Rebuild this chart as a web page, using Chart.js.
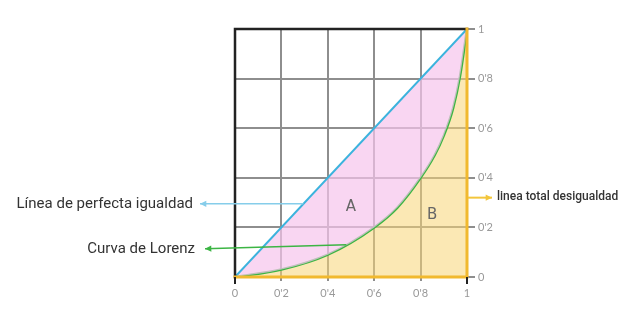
<!DOCTYPE html>
<html>
<head>
<meta charset="utf-8">
<script src="https://cdn.jsdelivr.net/npm/chart.js@4.4.1/dist/chart.umd.min.js"></script>
<style>
  body { margin: 0; background: #fff; }
  canvas { display: block; }
</style>
</head>
<body>
<canvas id="lorenz" width="626" height="309"></canvas>
<script>
// données
const tickValues = [0, 0.2, 0.4, 0.6, 0.8, 1];
const tickLabels = ["0", "0'2", "0'4", "0'6", "0'8", "1"];
const equalX = [0, 1];
const equalY = [0, 1];
const lorenzX = [0, 0.2, 0.4, 0.6, 0.7, 0.8, 0.86, 0.9, 0.94, 0.97, 1];
const lorenzY = [0, 0.03, 0.09, 0.2, 0.28, 0.4, 0.49, 0.57, 0.68, 0.81, 1];

const BLUE = '#3bb3dd';
const GREEN = '#3cb544';
const YELLOW = '#f1b92f';
const GRIS = '#8e8e8e';

function toPoints(xs, ys) {
  return xs.map((x, i) => ({ x: x, y: ys[i] }));
}

function labelFor(v) {
  const i = tickValues.findIndex(t => Math.abs(t - v) < 1e-6);
  return i >= 0 ? tickLabels[i] : '';
}

function fleche(ctx, x1, y1, x2, y2, color, width) {
  ctx.save();
  ctx.strokeStyle = color;
  ctx.fillStyle = color;
  ctx.lineWidth = width;
  ctx.beginPath();
  ctx.moveTo(x1, y1);
  ctx.lineTo(x2, y2);
  ctx.stroke();
  const a = Math.atan2(y2 - y1, x2 - x1);
  ctx.beginPath();
  ctx.moveTo(x2, y2);
  ctx.lineTo(x2 - 7 * Math.cos(a - 0.45), y2 - 7 * Math.sin(a - 0.45));
  ctx.lineTo(x2 - 7 * Math.cos(a + 0.45), y2 - 7 * Math.sin(a + 0.45));
  ctx.closePath();
  ctx.fill();
  ctx.restore();
}

// bordures + flèches + textes
const annotations = {
  id: 'annotations',
  afterDatasetsDraw(chart) {
    const { ctx, chartArea: a, scales } = chart;
    const sx = scales.x, sy = scales.y;

    // cadre : noir en haut et à gauche, jaune à droite et en bas
    ctx.save();
    ctx.lineCap = 'square';
    ctx.strokeStyle = '#222';
    ctx.lineWidth = 2.5;
    ctx.beginPath();
    ctx.moveTo(a.left, a.bottom);
    ctx.lineTo(a.left, a.top);
    ctx.lineTo(a.right, a.top);
    ctx.stroke();
    ctx.strokeStyle = YELLOW;
    ctx.lineWidth = 3;
    ctx.beginPath();
    ctx.moveTo(a.left, a.bottom);
    ctx.lineTo(a.right, a.bottom);
    ctx.lineTo(a.right, a.top);
    ctx.stroke();
    // petits repères noirs sous 0 et 1
    ctx.strokeStyle = '#222';
    ctx.lineWidth = 2;
    [0, 1].forEach(v => {
      ctx.beginPath();
      ctx.moveTo(sx.getPixelForValue(v), a.bottom + 1);
      ctx.lineTo(sx.getPixelForValue(v), a.bottom + 6);
      ctx.stroke();
    });
    ctx.restore();

    // flèches
    const pb = { x: sx.getPixelForValue(0.295), y: sy.getPixelForValue(0.295) };
    fleche(ctx, pb.x, pb.y, a.left - 35, pb.y, '#86cdea', 1.5);
    const pg = { x: sx.getPixelForValue(0.48), y: sy.getPixelForValue(0.13) };
    fleche(ctx, pg.x, pg.y, a.left - 30, pg.y + 4, GREEN, 1.5);
    const py = sy.getPixelForValue(0.32);
    fleche(ctx, a.right + 1, py, a.right + 25, py, '#f3c63c', 2);

    // textes
    ctx.save();
    ctx.fillStyle = '#333';
    ctx.textBaseline = 'middle';
    ctx.textAlign = 'right';
    ctx.font = '15px Roboto';
    ctx.fillText('Línea de perfecta igualdad', a.left - 42, pb.y);
    ctx.fillText('Curva de Lorenz', a.left - 40, pg.y + 4);
    ctx.textAlign = 'left';
    ctx.font = '500 12px Roboto';
    ctx.fillText('linea total desigualdad', a.right + 30, py - 1);
    ctx.fillStyle = '#666';
    ctx.textAlign = 'center';
    ctx.font = '15px "DejaVu Sans"';
    ctx.fillText('A', sx.getPixelForValue(0.5), sy.getPixelForValue(0.28));
    ctx.fillText('B', sx.getPixelForValue(0.85), sy.getPixelForValue(0.25));
    ctx.restore();
  }
};

const ctx = document.getElementById('lorenz');
new Chart(ctx, {
  type: 'line',
  data: {
    datasets: [
      {
        label: 'Línea de perfecta igualdad',
        data: toPoints(equalX, equalY),
        borderColor: BLUE,
        borderWidth: 2,
        pointRadius: 0,
        fill: '+1',
        backgroundColor: 'rgba(246, 196, 236, 0.7)'
      },
      {
        label: 'Curva de Lorenz',
        data: toPoints(lorenzX, lorenzY),
        borderColor: GREEN,
        borderWidth: 2.5,
        pointRadius: 0,
        cubicInterpolationMode: 'monotone',
        fill: 'origin',
        backgroundColor: 'rgba(247, 214, 118, 0.55)'
      }
    ]
  },
  options: {
    responsive: false,
    devicePixelRatio: 1,
    animation: false,
    layout: { padding: { left: 235, top: 29, right: 0, bottom: 0 } },
    plugins: {
      legend: { display: false },
      tooltip: { enabled: false }
    },
    scales: {
      x: {
        type: 'linear',
        min: 0,
        max: 1,
        afterBuildTicks: s => { s.ticks = tickValues.map(v => ({ value: v })); },
        afterFit: s => { s.height = 32; },
        grid: { color: GRIS, lineWidth: 2, tickLength: 4 },
        border: { display: false },
        ticks: {
          callback: v => labelFor(v),
          color: '#999',
          padding: 6,
          maxRotation: 0,
          font: { family: 'Lato', size: 11 }
        }
      },
      y: {
        type: 'linear',
        position: 'right',
        min: 0,
        max: 1,
        afterBuildTicks: s => { s.ticks = tickValues.map(v => ({ value: v })); },
        afterFit: s => { s.width = 159; },
        grid: { color: GRIS, lineWidth: 2, tickLength: 8 },
        border: { display: false },
        ticks: {
          callback: v => labelFor(v),
          color: '#999',
          padding: 3,
          font: { family: 'Lato', size: 11 }
        }
      }
    }
  },
  plugins: [annotations]
});
</script>
</body>
</html>
